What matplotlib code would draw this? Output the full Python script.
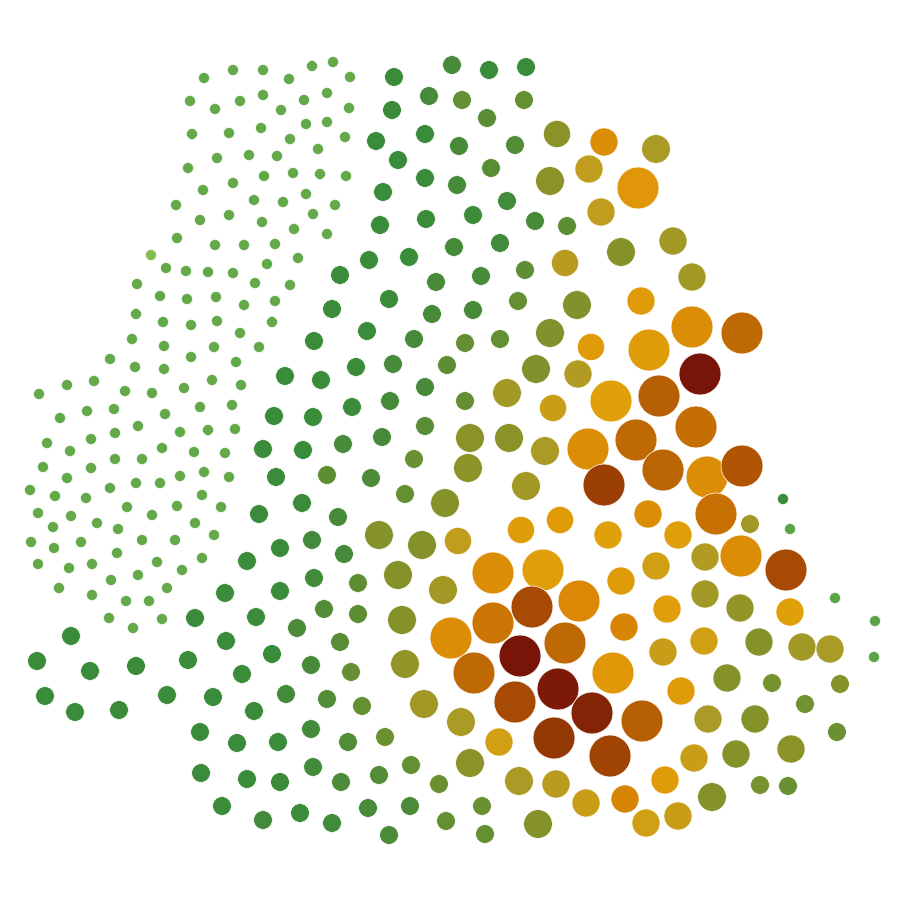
import matplotlib
matplotlib.use("Agg")
import matplotlib.pyplot as plt
from matplotlib.colors import LinearSegmentedColormap, Normalize

# small settlements (uniform size / colour)
village_x = [
    204, 233, 263, 289, 190, 215, 240, 263, 281, 192, 229, 261, 290, 217, 249,
    277, 188, 233, 264, 293, 203, 254, 283, 176, 200, 229, 262, 294, 177, 215,
    244, 275, 298, 312, 333, 350, 304, 327, 349, 306, 327, 345, 318, 320, 346,
    306, 335, 313, 327, 166, 186, 208, 233, 267, 137, 255, 290, 160, 187, 216,
    244, 275, 136, 163, 191, 217, 240, 272, 132, 164, 214, 259, 110, 135, 164,
    191, 236, 39, 67, 94, 125, 152, 184, 212, 241, 60, 87, 114, 165, 200,
    232, 47, 70, 91, 115, 138, 180, 208, 235, 43, 91, 115, 142, 162, 194,
    225, 204, 67, 30, 55, 86, 110, 136, 160, 180, 229, 38, 71, 53, 97,
    118, 127, 152, 177, 202, 221, 195, 214, 31, 54, 81, 117, 142, 175, 38,
    69, 92, 157, 182, 202, 59, 92, 111, 138, 167, 126, 149, 109, 133, 162,
]
village_y = [
    78, 70, 70, 79, 101, 109, 101, 95, 110, 134, 133, 128, 139, 158, 155,
    156, 168, 183, 176, 173, 190, 200, 202, 205, 220, 215, 222, 229, 238, 245,
    245, 244, 258, 66, 62, 77, 100, 93, 108, 124, 122, 137, 149, 174, 176,
    194, 205, 214, 234, 268, 271, 272, 273, 264, 284, 283, 285, 296, 299, 297,
    305, 301, 314, 322, 325, 321, 333, 322, 339, 346, 347, 347, 359, 367, 369,
    357, 362, 394, 385, 381, 391, 393, 388, 380, 385, 418, 411, 409, 414, 407,
    405, 443, 451, 439, 433, 426, 432, 430, 429, 467, 468, 459, 459, 448, 452,
    453, 472, 478, 490, 496, 498, 488, 483, 483, 476, 477, 513, 516, 527, 523,
    529, 507, 515, 506, 495, 507, 523, 535, 542, 548, 542, 553, 540, 540, 564,
    568, 564, 562, 570, 558, 588, 595, 580, 575, 588, 601, 601, 618, 628, 619,
]
village_pop = 7
village_rate = 10

# larger settlements: position, population (k), rate
town_x = [
    394, 452, 489, 526, 429, 462, 524, 392, 487, 557, 376, 425, 459, 515, 604,
    398, 425, 457, 491, 550, 589, 656, 638, 383, 426, 473, 507, 535, 567, 601,
    380, 454, 500, 565, 621, 673, 369, 409, 340, 436, 481, 525, 692, 389, 332,
    432, 473, 518, 577, 641, 367, 314, 414, 465, 500, 550, 591, 692, 742, 649,
    285, 356, 393, 447, 536, 578, 700, 321, 425, 507, 553, 611, 659, 352, 390,
    465, 274, 313, 425, 470, 509, 545, 588, 636, 696, 263, 303, 343, 382, 414,
    468, 663, 707, 742, 276, 327, 371, 405, 445, 526, 604, 259, 302, 338, 379,
    422, 458, 521, 560, 648, 716, 750, 608, 678, 247, 280, 312, 344, 398, 443,
    493, 543, 705, 741, 786, 656, 225, 280, 314, 358, 579, 532, 621, 705, 740,
    790, 667, 195, 256, 297, 324, 358, 402, 451, 493, 565, 624, 704, 759, 802,
    830, 71, 226, 272, 340, 520, 663, 37, 90, 136, 188, 242, 311, 351, 405,
    474, 558, 613, 727, 772, 840, 45, 75, 119, 167, 213, 254, 286, 327, 362,
    424, 515, 592, 681, 805, 200, 237, 278, 311, 348, 385, 461, 499, 554, 642,
    708, 755, 837, 610, 694, 736, 791, 201, 247, 280, 313, 341, 379, 411, 439,
    470, 519, 556, 665, 760, 788, 586, 625, 712, 222, 263, 300, 332, 368, 410,
    446, 482, 389, 485, 538, 646, 678, 151, 783, 790, 835, 875, 874,
]
town_y = [
    77, 65, 70, 67, 96, 100, 100, 110, 118, 134, 141, 134, 146, 145, 142,
    160, 178, 185, 168, 181, 169, 149, 188, 192, 219, 215, 201, 221, 226, 212,
    225, 247, 243, 263, 252, 241, 260, 257, 275, 282, 276, 270, 277, 299, 309,
    314, 310, 301, 305, 301, 331, 341, 339, 343, 339, 333, 347, 327, 333, 350,
    376, 367, 364, 365, 369, 374, 374, 380, 387, 393, 408, 401, 396, 407, 401,
    401, 416, 417, 426, 438, 438, 451, 449, 440, 427, 449, 450, 444, 437, 459,
    468, 470, 477, 466, 477, 475, 478, 494, 503, 486, 485, 514, 503, 517, 535,
    545, 541, 530, 520, 514, 514, 524, 535, 535, 561, 548, 540, 554, 575, 590,
    573, 570, 557, 556, 570, 566, 593, 591, 578, 583, 601, 607, 581, 594, 608,
    612, 609, 618, 617, 628, 609, 614, 620, 638, 623, 643, 627, 641, 642, 647,
    649, 636, 641, 654, 642, 656, 652, 661, 671, 666, 660, 674, 665, 672, 664,
    673, 689, 673, 678, 683, 684, 696, 712, 710, 695, 697, 711, 694, 699, 706,
    704, 702, 713, 691, 704, 732, 743, 742, 729, 742, 737, 722, 742, 738, 721,
    719, 719, 732, 756, 758, 754, 749, 773, 779, 782, 767, 782, 775, 765, 784,
    763, 781, 784, 780, 785, 786, 803, 799, 797, 806, 820, 813, 823, 808, 806,
    821, 806, 835, 834, 824, 823, 816, 255, 499, 529, 598, 621, 657,
]
town_pop = [
    20, 20, 20, 20, 20, 20, 20, 20, 20, 42, 20, 20, 20, 20, 45,
    20, 20, 20, 20, 47, 45, 47, 100, 20, 20, 20, 20, 20, 20, 45,
    20, 20, 20, 42, 47, 45, 20, 20, 20, 20, 20, 20, 45, 20, 20,
    20, 20, 20, 47, 45, 20, 20, 20, 20, 20, 47, 42, 100, 100, 100,
    20, 20, 20, 20, 47, 45, 100, 20, 20, 47, 42, 100, 100, 20, 20,
    20, 20, 20, 20, 47, 47, 47, 100, 100, 100, 20, 20, 20, 20, 20,
    47, 100, 100, 100, 20, 20, 20, 20, 47, 47, 100, 20, 20, 20, 47,
    47, 42, 42, 42, 45, 100, 20, 45, 45, 20, 20, 20, 20, 47, 47,
    100, 100, 45, 100, 100, 45, 20, 20, 20, 20, 100, 100, 45, 45, 45,
    45, 45, 20, 20, 20, 20, 20, 47, 100, 100, 100, 45, 45, 45, 45,
    45, 20, 20, 20, 20, 100, 45, 20, 20, 20, 20, 20, 20, 20, 47,
    100, 100, 100, 45, 20, 20, 20, 20, 20, 20, 20, 20, 20, 20, 20,
    47, 100, 100, 45, 20, 20, 20, 20, 20, 20, 20, 47, 45, 100, 100,
    45, 45, 20, 100, 45, 45, 45, 20, 20, 20, 20, 20, 20, 20, 20,
    47, 47, 45, 45, 20, 20, 45, 45, 47, 20, 20, 20, 20, 20, 20,
    20, 20, 20, 20, 47, 45, 45, 7, 7, 7, 7, 7, 7,
]
town_rate = [
    20, 26, 20, 20, 26, 36, 36, 20, 32, 50, 20, 20, 26, 30, 78,
    20, 20, 26, 32, 50, 64, 58, 76, 20, 20, 22, 24, 26, 34, 64,
    20, 26, 24, 62, 48, 56, 20, 20, 20, 26, 26, 34, 56, 20, 20,
    26, 26, 36, 46, 74, 20, 20, 26, 36, 36, 46, 74, 78, 86, 74,
    20, 20, 26, 34, 46, 60, 100, 20, 26, 56, 66, 72, 88, 20, 26,
    36, 20, 20, 32, 50, 50, 58, 78, 86, 85, 20, 20, 26, 26, 38,
    50, 87, 78, 90, 20, 34, 28, 36, 48, 56, 94, 20, 20, 26, 48,
    48, 64, 74, 74, 78, 84, 56, 72, 73, 20, 20, 24, 26, 48, 56,
    78, 73, 60, 78, 92, 68, 20, 20, 24, 34, 79, 92, 74, 56, 52,
    72, 73, 20, 20, 28, 30, 34, 48, 78, 83, 86, 80, 68, 48, 56,
    58, 20, 20, 20, 32, 100, 66, 20, 20, 20, 20, 20, 26, 36, 52,
    86, 99, 75, 48, 42, 48, 20, 20, 20, 20, 20, 20, 24, 30, 36,
    56, 92, 98, 74, 40, 20, 20, 20, 24, 30, 38, 58, 68, 95, 88,
    58, 48, 38, 93, 66, 48, 50, 20, 20, 20, 24, 28, 30, 36, 38,
    50, 58, 62, 74, 42, 38, 66, 80, 48, 20, 24, 20, 24, 26, 28,
    36, 38, 28, 36, 48, 68, 66, 4, 20, 12, 12, 12, 12,
]

stops = [
    (0.00, "#9acb52"), (0.10, "#62a84a"), (0.20, "#3a8c3a"), (0.26, "#478a3a"),
    (0.34, "#5e8e34"), (0.42, "#76922e"), (0.50, "#8a9228"), (0.58, "#aa9a26"),
    (0.66, "#c89e18"), (0.72, "#e0a00a"), (0.76, "#e09608"), (0.80, "#d88404"),
    (0.86, "#c06a04"), (0.92, "#a84c04"), (0.96, "#903404"), (1.00, "#781408"),
]
cmap = LinearSegmentedColormap.from_list("rate", stops)
norm = Normalize(0, 100)

fig = plt.figure(figsize=(9, 9), dpi=100)
ax = fig.add_axes([0, 0, 1, 1])

# marker area (pt^2) proportional to population
k = 9.1
ax.scatter(village_x, village_y, s=[village_pop * k] * len(village_x),
           c=[village_rate] * len(village_x), cmap=cmap, norm=norm,
           edgecolors="white", linewidths=0.5)
ax.scatter(town_x, town_y, s=[p * k for p in town_pop], c=town_rate,
           cmap=cmap, norm=norm, edgecolors="white", linewidths=0.5)

ax.set_xlim(0, 900)
ax.set_ylim(900, 0)
ax.axis("off")

fig.savefig("out.png", dpi=100, facecolor="white")
